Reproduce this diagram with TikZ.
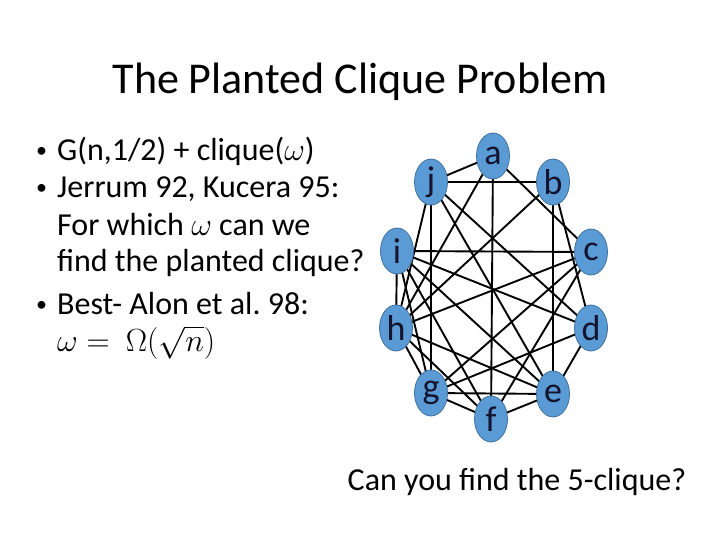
\RequirePackage{fix-cm}
\documentclass[tikz,border=0pt]{standalone}
\usepackage{amsmath}
\usepackage{fontspec}
\setmainfont{Carlito}
\definecolor{nodefill}{HTML}{5B9BD5}
\definecolor{nodeline}{HTML}{41719C}
\definecolor{labelcol}{HTML}{14142E}
\usetikzlibrary{shapes.geometric}
\begin{document}
\begin{tikzpicture}[x=1pt,y=-1pt,
  vert/.style={ellipse, fill=nodefill, draw=nodeline, line width=0.8pt, minimum width=33pt, minimum height=46pt, inner sep=0pt, text=labelcol, font=\fontsize{36}{38}\selectfont},
  edge/.style={line width=1.9pt, black},
  body/.style={anchor=base west, inner sep=0pt, font=\fontsize{32}{36}\selectfont},
  bul/.style={anchor=base west, inner sep=0pt, font=\fontsize{22}{24}\selectfont}
]
\useasboundingbox (0,0) rectangle (720,540);
\fill[white] (0,0) rectangle (720,540);

% title
\node[anchor=base, inner sep=0pt, font=\fontsize{44}{48}\selectfont] (title) at (360,94) {The Planted Clique Problem};

% bullets
\node[bul] (b1) at (36,158) {\textbullet};
\node[body] (t1) at (57,161) {G(n,1/2) + clique($\omega$)};
\node[bul] (b2) at (36,195) {\textbullet};
\node[body] (t2) at (57,198) {Jerrum 92, Kucera 95:};
\node[body] (t3) at (57,236) {For which $\omega$ can we};
\node[body] (t4) at (57,271) {find the planted clique?};
\node[bul] (b3) at (36,311) {\textbullet};
\node[body] (t5) at (57,314) {Best- Alon et al.\ 98:};
\node[body] (t6) at (57,351) {$\omega =\ \Omega(\sqrt{n})$};

\node[anchor=base, inner sep=0pt, font=\fontsize{32}{36}\selectfont] (q) at (517,490) {Can you find the 5-clique?};

% vertex positions
\coordinate (pa) at (493,156);
\coordinate (pj) at (431,182);
\coordinate (pb) at (553,182);
\coordinate (pi) at (397,251);
\coordinate (pc) at (591,252);
\coordinate (ph) at (396,328);
\coordinate (pd) at (591,328);
\coordinate (pg) at (431,393);
\coordinate (pe) at (553,394);
\coordinate (pf) at (491,419);

\foreach \u/\v in {j/a,j/b,j/g,j/h,j/e,j/d,a/f,a/h,a/c,b/h,b/e,b/d,i/c,i/h,i/d,i/g,i/f,i/e,c/h,c/g,c/f,d/g,d/e,e/f,g/e,h/e,h/g,h/f,g/f}
  \draw[edge] (p\u) -- (p\v);

\foreach \n in {a,b,c,d,e,f,g,h,i,j}
  \node[vert] (\n) at (p\n) {\n};
\end{tikzpicture}
\end{document}
